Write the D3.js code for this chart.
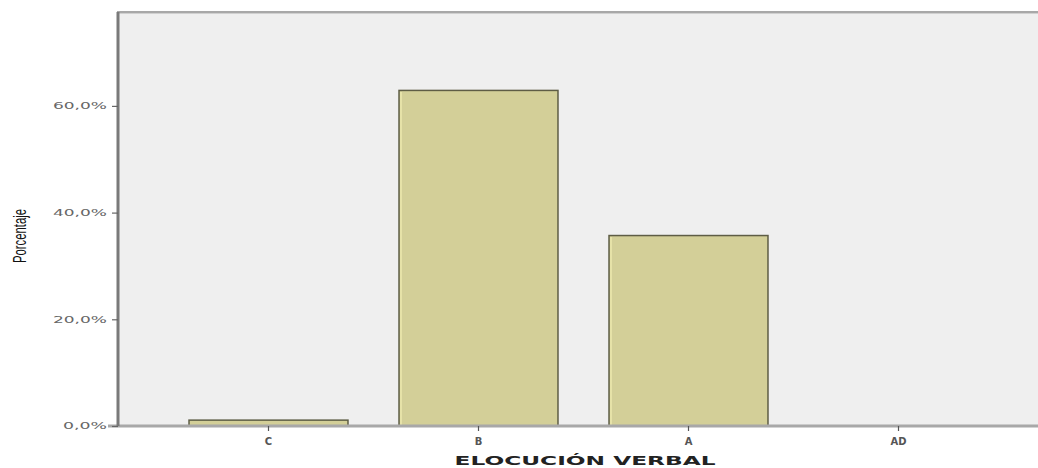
<!DOCTYPE html>
<html><head><meta charset="utf-8">
<script src="https://cdn.jsdelivr.net/npm/d3@7"></script>
<style>body{margin:0;background:#fff}svg{display:block}</style>
</head><body>
<svg id="c" width="1038" height="468"></svg>
<script>
const categories = ["C", "B", "A", "AD"];
const values = [1.1, 62.9, 35.7, 0];
const yTicks = [0, 20, 40, 60];
const yTickLabels = ["0,0%", "20,0%", "40,0%", "60,0%"];
const xTitle = "ELOCUCIÓN VERBAL";
const yTitle = "Porcentaje";

const svg = d3.select("#c");
const pLeft = 118, pRight = 1046, pTop = 12, pBottom = 426;

const y = d3.scaleLinear().domain([0, 77.6]).range([pBottom, pTop]);
const x = d3.scaleBand().domain(categories).range([163.5, 1003.5])
  .paddingInner(0.243).paddingOuter(0.1215);

// plot background
svg.append("rect").attr("x", pLeft).attr("y", pTop).attr("width", pRight - pLeft).attr("height", pBottom - pTop)
  .attr("fill", "#efefef").attr("stroke", "#a8a8a8").attr("stroke-width", 2);
svg.append("line").attr("x1", pLeft).attr("x2", 1038).attr("y1", pTop + 1.5).attr("y2", pTop + 1.5)
  .attr("stroke", "#d0d0d0").attr("stroke-width", 1);

// bars
const g = svg.append("g");
g.selectAll("rect.bar").data(values).join("rect").attr("class", "bar")
  .attr("x", (d, i) => x(categories[i]))
  .attr("y", d => y(d))
  .attr("width", x.bandwidth())
  .attr("height", d => pBottom - y(d))
  .attr("fill", "#d3cf98")
  .attr("stroke", "#5e5d45").attr("stroke-width", 1.5)
  .style("display", d => d > 0 ? null : "none");
g.selectAll("line.hl").data(values).join("line").attr("class", "hl")
  .attr("x1", (d, i) => x(categories[i]) + 2).attr("x2", (d, i) => x(categories[i]) + 2)
  .attr("y1", d => y(d) + 1.5).attr("y2", pBottom)
  .attr("stroke", "#e6e2a8").attr("stroke-width", 2)
  .style("display", d => d > 2 ? null : "none");

// x axis
const xAxis = svg.append("g").attr("transform", `translate(0,${pBottom})`)
  .call(d3.axisBottom(x).tickSize(5).tickPadding(7));
xAxis.select(".domain").attr("d", `M108,0H1038`).attr("stroke", "#a8a8a8").attr("stroke-width", 3);
xAxis.selectAll(".tick line").attr("stroke", "#555").attr("stroke-width", 1.2);
xAxis.selectAll(".tick text").attr("font-family", "DejaVu Sans, sans-serif").attr("font-size", 10)
  .attr("font-weight", "bold").attr("fill", "#555");

// y axis
const yAxis = svg.append("g").attr("transform", `translate(${pLeft},0)`)
  .call(d3.axisLeft(y).tickValues(yTicks).tickFormat((d, i) => yTickLabels[i]).tickSize(6).tickPadding(5));
yAxis.select(".domain").attr("d", `M0,${pTop}V${pBottom}`).attr("stroke", "#7a7a7a").attr("stroke-width", 3);
yAxis.selectAll(".tick line").attr("stroke", "#666").attr("stroke-width", 1.2);
yAxis.selectAll(".tick text").attr("font-family", "DejaVu Sans, sans-serif").attr("font-size", 8.5)
  .attr("fill", "#666")
  .attr("textLength", d => d === 0 ? 44 : 54).attr("lengthAdjust", "spacingAndGlyphs");

// titles
svg.append("text").attr("x", 585).attr("y", 465).attr("text-anchor", "middle")
  .attr("font-family", "DejaVu Sans, sans-serif").attr("font-size", 13).attr("font-weight", "bold")
  .attr("textLength", 261).attr("lengthAdjust", "spacingAndGlyphs")
  .attr("fill", "#222").text(xTitle);
svg.append("text").attr("transform", "translate(26,236) rotate(-90)").attr("text-anchor", "middle")
  .attr("font-family", "Liberation Sans, Arial, sans-serif").attr("font-size", 18)
  .attr("textLength", 54).attr("lengthAdjust", "spacingAndGlyphs")
  .attr("fill", "#111").text(yTitle);
</script>
</body></html>
